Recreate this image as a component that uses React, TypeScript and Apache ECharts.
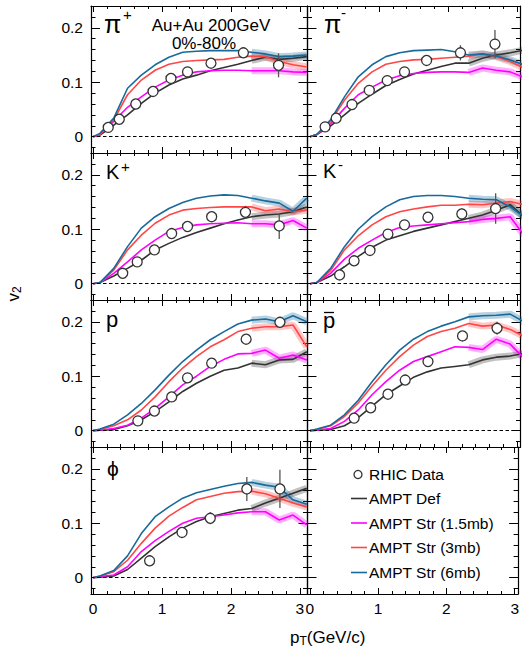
import React, { useEffect, useRef } from "react";
import * as echarts from "echarts";

// ---------- data ----------
const pT = [0, 0.1, 0.3, 0.5, 0.7, 0.9, 1.1, 1.3, 1.5, 1.7, 1.9, 2.1, 2.3, 2.5, 2.7, 2.9, 3.1];
const bandStartPt = 2.3;

const xMajorTicks = [0, 1, 2, 3];
const xMinorTicks = [0.2, 0.4, 0.6, 0.8, 1.2, 1.4, 1.6, 1.8, 2.2, 2.4, 2.6, 2.8];
const yMajorTicks = [0, 0.1, 0.2];
const yMinorTicks = [-0.02, 0.02, 0.04, 0.06, 0.08, 0.12, 0.14, 0.16, 0.18, 0.22];

const legendNames = ["RHIC Data", "AMPT Def", "AMPT Str (1.5mb)", "AMPT Str (3mb)", "AMPT Str (6mb)"];

// pi+
const piPlusDef = [0, 0.003, 0.021, 0.040, 0.061, 0.080, 0.095, 0.106, 0.113, 0.121, 0.127, 0.133, 0.140, 0.146, 0.142, 0.144, 0.147];
const piPlusStr15 = [0, 0.004, 0.028, 0.054, 0.073, 0.091, 0.104, 0.113, 0.119, 0.121, 0.122, 0.122, 0.121, 0.121, 0.121, 0.119, 0.118];
const piPlusStr3 = [0, 0.004, 0.031, 0.077, 0.104, 0.122, 0.133, 0.138, 0.140, 0.141, 0.142, 0.146, 0.148, 0.147, 0.138, 0.132, 0.128];
const piPlusStr6 = [0, 0.006, 0.034, 0.089, 0.113, 0.132, 0.146, 0.155, 0.157, 0.158, 0.158, 0.158, 0.155, 0.152, 0.147, 0.148, 0.150];
const piPlusDataPt = [0.22, 0.38, 0.62, 0.87, 1.13, 1.37, 1.71, 2.18, 2.69];
const piPlusDataV2 = [0.017, 0.032, 0.060, 0.083, 0.107, 0.119, 0.135, 0.154, 0.131];
const piPlusDataErr = [0, 0, 0, 0, 0, 0, 0, 0.008, 0.022];

// pi-
const piMinusDef = [0, 0.004, 0.020, 0.040, 0.061, 0.078, 0.094, 0.105, 0.115, 0.122, 0.129, 0.135, 0.135, 0.144, 0.150, 0.154, 0.159];
const piMinusStr15 = [0, 0.004, 0.024, 0.052, 0.077, 0.091, 0.104, 0.112, 0.116, 0.118, 0.119, 0.119, 0.118, 0.126, 0.122, 0.119, 0.109];
const piMinusStr3 = [0, 0.004, 0.028, 0.067, 0.098, 0.119, 0.133, 0.138, 0.141, 0.142, 0.144, 0.146, 0.148, 0.152, 0.147, 0.138, 0.126];
const piMinusStr6 = [0, 0.004, 0.031, 0.073, 0.110, 0.132, 0.147, 0.154, 0.158, 0.159, 0.160, 0.156, 0.150, 0.152, 0.148, 0.141, 0.132];
const piMinusDataPt = [0.22, 0.38, 0.61, 0.86, 1.12, 1.37, 1.69, 2.18, 2.68];
const piMinusDataV2 = [0.018, 0.034, 0.059, 0.085, 0.103, 0.119, 0.140, 0.154, 0.170];
const piMinusDataErr = [0, 0, 0, 0, 0, 0, 0, 0.014, 0.026];

// K+
const kPlusDef = [0, 0.002, 0.014, 0.028, 0.043, 0.062, 0.074, 0.085, 0.094, 0.102, 0.110, 0.117, 0.123, 0.126, 0.128, 0.132, 0.141];
const kPlusStr15 = [0, 0.002, 0.019, 0.040, 0.062, 0.080, 0.096, 0.103, 0.108, 0.110, 0.111, 0.112, 0.110, 0.110, 0.108, 0.116, 0.102];
const kPlusStr3 = [0, 0.002, 0.025, 0.062, 0.089, 0.111, 0.126, 0.135, 0.138, 0.140, 0.141, 0.141, 0.141, 0.134, 0.137, 0.132, 0.135];
const kPlusStr6 = [0, 0.002, 0.028, 0.068, 0.102, 0.123, 0.138, 0.149, 0.157, 0.161, 0.163, 0.162, 0.157, 0.152, 0.148, 0.133, 0.157];
const kPlusDataPt = [0.43, 0.64, 0.89, 1.14, 1.37, 1.72, 2.21, 2.70];
const kPlusDataV2 = [0.019, 0.040, 0.062, 0.092, 0.105, 0.123, 0.131, 0.106];
const kPlusDataErr = [0, 0, 0, 0, 0, 0, 0.012, 0.024];

// K-
const kMinusDef = [0, 0.002, 0.014, 0.031, 0.050, 0.067, 0.080, 0.088, 0.096, 0.102, 0.108, 0.114, 0.120, 0.126, 0.135, 0.145, 0.123];
const kMinusStr15 = [0, 0.002, 0.019, 0.045, 0.065, 0.080, 0.094, 0.103, 0.106, 0.108, 0.110, 0.112, 0.114, 0.118, 0.120, 0.123, 0.089];
const kMinusStr3 = [0, 0.002, 0.024, 0.062, 0.088, 0.108, 0.123, 0.132, 0.137, 0.141, 0.144, 0.144, 0.146, 0.145, 0.148, 0.151, 0.145];
const kMinusStr6 = [0, 0.002, 0.028, 0.068, 0.100, 0.123, 0.141, 0.154, 0.160, 0.162, 0.162, 0.160, 0.157, 0.155, 0.154, 0.141, 0.123];
const kMinusDataPt = [0.43, 0.64, 0.87, 1.13, 1.37, 1.71, 2.20, 2.69];
const kMinusDataV2 = [0.016, 0.042, 0.061, 0.091, 0.108, 0.122, 0.128, 0.138];
const kMinusDataErr = [0, 0, 0, 0, 0, 0, 0.010, 0.028];

// p
const pDef = [0, 0.001, 0.002, 0.009, 0.020, 0.035, 0.053, 0.072, 0.087, 0.100, 0.111, 0.115, 0.124, 0.121, 0.130, 0.131, 0.145];
const pStr15 = [0, 0.001, 0.004, 0.010, 0.023, 0.041, 0.062, 0.084, 0.100, 0.118, 0.131, 0.141, 0.142, 0.148, 0.133, 0.139, 0.130];
const pStr3 = [0, 0.002, 0.009, 0.020, 0.038, 0.062, 0.090, 0.115, 0.136, 0.154, 0.167, 0.182, 0.188, 0.191, 0.191, 0.194, 0.154];
const pStr6 = [0, 0.003, 0.012, 0.029, 0.050, 0.075, 0.102, 0.127, 0.148, 0.167, 0.182, 0.196, 0.203, 0.205, 0.200, 0.211, 0.200];
const pDataPt = [0.65, 0.89, 1.14, 1.37, 1.72, 2.22, 2.71];
const pDataV2 = [0.018, 0.036, 0.062, 0.097, 0.124, 0.168, 0.199];
const pDataErr = [0, 0, 0, 0, 0, 0, 0.006];

// pbar
const pbarDef = [0, 0.001, 0.002, 0.009, 0.024, 0.045, 0.066, 0.082, 0.098, 0.108, 0.115, 0.118, 0.121, 0.130, 0.135, 0.137, 0.142];
const pbarStr15 = [0, 0.001, 0.004, 0.017, 0.038, 0.066, 0.090, 0.111, 0.127, 0.136, 0.145, 0.154, 0.153, 0.149, 0.168, 0.159, 0.133];
const pbarStr3 = [0, 0.002, 0.009, 0.026, 0.051, 0.082, 0.111, 0.136, 0.157, 0.173, 0.182, 0.188, 0.197, 0.192, 0.194, 0.186, 0.173];
const pbarStr6 = [0, 0.003, 0.010, 0.029, 0.056, 0.090, 0.121, 0.148, 0.168, 0.182, 0.192, 0.200, 0.209, 0.211, 0.212, 0.214, 0.200];
const pbarDataPt = [0.64, 0.88, 1.13, 1.38, 1.71, 2.21, 2.71];
const pbarDataV2 = [0.023, 0.042, 0.067, 0.093, 0.127, 0.174, 0.188];
const pbarDataErr = [0, 0, 0, 0, 0, 0.006, 0.012];

// phi
const phiDef = [0, 0.001, 0.003, 0.015, 0.036, 0.057, 0.075, 0.091, 0.103, 0.112, 0.118, 0.124, 0.127, 0.137, 0.146, 0.155, 0.164];
const phiStr15 = [0, 0.002, 0.005, 0.020, 0.048, 0.068, 0.085, 0.100, 0.109, 0.112, 0.115, 0.119, 0.121, 0.121, 0.106, 0.115, 0.097];
const phiStr3 = [0, 0.003, 0.011, 0.032, 0.063, 0.091, 0.113, 0.129, 0.143, 0.149, 0.155, 0.158, 0.159, 0.154, 0.146, 0.137, 0.130];
const phiStr6 = [0, 0.003, 0.013, 0.040, 0.081, 0.112, 0.130, 0.146, 0.156, 0.162, 0.168, 0.173, 0.175, 0.170, 0.166, 0.143, 0.135];
const phiDataPt = [0.82, 1.29, 1.70, 2.23, 2.71];
const phiDataV2 = [0.031, 0.083, 0.109, 0.163, 0.163];
const phiDataErr = [0, 0, 0.011, 0.022, 0.035];

// ---------- styling ----------
const FONT = "'Liberation Sans', Arial, Helvetica, sans-serif";
const C_DEF = "#333333";
const C_15 = "#ff00ff";
const C_3 = "#ff4646";
const C_6 = "#176a9b";

type Panel = {
  def: number[]; s15: number[]; s3: number[]; s6: number[];
  dx: number[]; dy: number[]; de: number[];
};

const panels: Panel[] = [
  { def: piPlusDef, s15: piPlusStr15, s3: piPlusStr3, s6: piPlusStr6, dx: piPlusDataPt, dy: piPlusDataV2, de: piPlusDataErr },
  { def: piMinusDef, s15: piMinusStr15, s3: piMinusStr3, s6: piMinusStr6, dx: piMinusDataPt, dy: piMinusDataV2, de: piMinusDataErr },
  { def: kPlusDef, s15: kPlusStr15, s3: kPlusStr3, s6: kPlusStr6, dx: kPlusDataPt, dy: kPlusDataV2, de: kPlusDataErr },
  { def: kMinusDef, s15: kMinusStr15, s3: kMinusStr3, s6: kMinusStr6, dx: kMinusDataPt, dy: kMinusDataV2, de: kMinusDataErr },
  { def: pDef, s15: pStr15, s3: pStr3, s6: pStr6, dx: pDataPt, dy: pDataV2, de: pDataErr },
  { def: pbarDef, s15: pbarStr15, s3: pbarStr3, s6: pbarStr6, dx: pbarDataPt, dy: pbarDataV2, de: pbarDataErr },
  { def: phiDef, s15: phiStr15, s3: phiStr3, s6: phiStr6, dx: phiDataPt, dy: phiDataV2, de: phiDataErr },
];

function axis(kind: "x" | "y", g: number, pos: string, min: number, max: number,
  ticks: number[], len: number, showLine: boolean, showLabel: boolean) {
  return {
    type: "value",
    gridIndex: g,
    position: pos,
    min,
    max,
    axisLine: { show: showLine, onZero: false, lineStyle: { color: "#000", width: 1.2 } },
    axisTick: { show: true, inside: true, length: len, customValues: ticks, lineStyle: { color: "#000", width: 1 } },
    axisLabel: {
      show: showLabel,
      customValues: ticks,
      color: "#000",
      fontSize: 15.5,
      fontFamily: FONT,
      margin: kind === "x" ? 6 : 8,
    },
    splitLine: { show: false },
    minorTick: { show: false },
  };
}

function txt(text: string, x: number, y: number, size: number, align = "left", extra: any = {}) {
  return {
    type: "text",
    x,
    y,
    silent: true,
    style: { text, fontSize: size, fontFamily: FONT, fill: "#000", align, verticalAlign: "middle" },
    ...extra,
  };
}

export default function App() {
  const ref = useRef<HTMLDivElement>(null);
  useEffect(() => {
    if (!ref.current) return;
    const chart = echarts.init(ref.current, null, { renderer: "svg" });

    const cols = [
      { left: 91, width: 216.5, min: -0.03, max: 3.11 },
      { left: 307.5, width: 213, min: -0.035, max: 3.05 },
    ];
    const rowTop = [6, 153, 300, 447];
    const rowH = 147;
    const yMin = -0.03;
    const yMax = 0.24;

    const grids: any[] = [];
    const xAxes: any[] = [];
    const yAxes: any[] = [];
    const series: any[] = [];

    for (let g = 0; g < 8; g++) {
      const r = Math.floor(g / 2);
      const c = g % 2;
      const col = cols[c];
      grids.push({ left: col.left, top: rowTop[r], width: col.width, height: rowH });
      const bottomRow = r === 3;
      xAxes.push(axis("x", g, "bottom", col.min, col.max, xMajorTicks, 6, true, bottomRow));
      xAxes.push(axis("x", g, "bottom", col.min, col.max, xMinorTicks, 3, false, false));
      xAxes.push(axis("x", g, "top", col.min, col.max, xMajorTicks, 6, true, false));
      xAxes.push(axis("x", g, "top", col.min, col.max, xMinorTicks, 3, false, false));
      yAxes.push(axis("y", g, "left", yMin, yMax, yMajorTicks, 9, true, c === 0));
      yAxes.push(axis("y", g, "left", yMin, yMax, yMinorTicks, 4.5, false, false));
      yAxes.push(axis("y", g, "right", yMin, yMax, yMajorTicks, 9, true, false));
      yAxes.push(axis("y", g, "right", yMin, yMax, yMinorTicks, 4.5, false, false));
    }

    panels.forEach((p, g) => {
      const xi = g * 4;
      const yi = g * 4;
      const curves = [
        { name: legendNames[1], vals: p.def, color: C_DEF },
        { name: legendNames[2], vals: p.s15, color: C_15 },
        { name: legendNames[3], vals: p.s3, color: C_3 },
        { name: legendNames[4], vals: p.s6, color: C_6 },
      ];
      curves.forEach((cv, k) => {
        // shaded uncertainty band on the high-pT tail
        series.push({
          type: "line",
          name: cv.name,
          xAxisIndex: xi,
          yAxisIndex: yi,
          data: pT.map((x, i) => [x, cv.vals[i]]).filter((d) => d[0] >= bandStartPt - 1e-9),
          symbol: "none",
          lineStyle: { color: cv.color, width: 7, opacity: 0.3 },
          z: 1,
          silent: true,
        });
        series.push({
          type: "line",
          name: cv.name,
          xAxisIndex: xi,
          yAxisIndex: yi,
          data: pT.map((x, i) => [x, cv.vals[i]]),
          symbol: "none",
          lineStyle: { color: cv.color, width: 1.6 },
          z: 2 + k * 0.1,
          silent: true,
          markLine:
            k === 0
              ? {
                  silent: true,
                  symbol: ["none", "none"],
                  label: { show: false },
                  lineStyle: { type: [3.5, 2.5], color: "#000", width: 1.2 },
                  data: [{ yAxis: 0 }],
                }
              : undefined,
        });
      });
      // error bars
      series.push({
        type: "custom",
        name: legendNames[0],
        xAxisIndex: xi,
        yAxisIndex: yi,
        data: p.dx.map((x, i) => [x, p.dy[i], p.de[i]]),
        encode: { x: 0, y: 1 },
        z: 4,
        silent: true,
        renderItem: (params: any, api: any) => {
          const x = api.value(0);
          const y = api.value(1);
          const e = api.value(2);
          if (!e) return null;
          const a = api.coord([x, y - e]);
          const b = api.coord([x, y + e]);
          return {
            type: "line",
            shape: { x1: a[0], y1: a[1], x2: b[0], y2: b[1] },
            style: { stroke: "#555", lineWidth: 1.3 },
          };
        },
      });
      series.push({
        type: "scatter",
        name: legendNames[0],
        xAxisIndex: xi,
        yAxisIndex: yi,
        data: p.dx.map((x, i) => [x, p.dy[i]]),
        symbol: "circle",
        symbolSize: 10,
        itemStyle: { color: "#ffffff", borderColor: "#333", borderWidth: 1.3, opacity: 1 },
        z: 5,
        silent: true,
      });
    });

    // legend (drawn in the empty lower-right panel)
    const legY = [474.5, 498.5, 523, 547.5, 572.5];
    const legColors = [C_DEF, C_15, C_3, C_6];
    const legendEls: any[] = [
      { type: "circle", shape: { cx: 358, cy: legY[0], r: 4 }, style: { fill: "#fff", stroke: "#333", lineWidth: 1.3 } },
    ];
    legColors.forEach((col, i) => {
      legendEls.push({
        type: "line",
        shape: { x1: 351, y1: legY[i + 1], x2: 367, y2: legY[i + 1] },
        style: { stroke: col, lineWidth: 1.6 },
      });
    });
    legendNames.forEach((n, i) => legendEls.push(txt(n, 369, legY[i], 15.5)));

    const graphic: any[] = [
      ...legendEls,
      // panel labels
      txt("π", 104, 24, 25),
      txt("+", 123, 14, 15),
      txt("π", 324, 24, 25),
      txt("-", 341, 12, 15),
      txt("K", 106, 171.5, 20),
      txt("+", 121, 166, 15),
      txt("K", 323, 171, 20),
      txt("-", 338, 164, 15),
      txt("p", 106, 319, 22),
      txt("p", 323, 320, 22),
      { type: "line", shape: { x1: 324, y1: 312.5, x2: 334, y2: 312.5 }, style: { stroke: "#000", lineWidth: 1.3 } },
      txt("ϕ", 107, 468.5, 21),
      txt("Au+Au 200GeV", 211, 25, 17, "center"),
      txt("0%-80%", 204, 43, 17, "center"),
      // axis titles
      {
        type: "text",
        x: 13,
        y: 294,
        rotation: Math.PI / 2,
        silent: true,
        style: {
          text: "{m|v}{s|2}",
          align: "center",
          verticalAlign: "middle",
          fill: "#000",
          rich: {
            m: { fontSize: 17, fontFamily: FONT, fill: "#000" },
            s: { fontSize: 12, fontFamily: FONT, fill: "#000", verticalAlign: "bottom", padding: [8, 0, 0, 0] },
          },
        },
      },
      {
        type: "text",
        x: 290,
        y: 637,
        silent: true,
        style: {
          text: "{m|p}{s|T}{m|(GeV/c)}",
          align: "left",
          verticalAlign: "middle",
          fill: "#000",
          rich: {
            m: { fontSize: 17, fontFamily: FONT, fill: "#000" },
            s: { fontSize: 12, fontFamily: FONT, fill: "#000", verticalAlign: "bottom", padding: [8, 0, 0, 0] },
          },
        },
      },
    ];

    chart.setOption({
      animation: false,
      backgroundColor: "#ffffff",
      textStyle: { fontFamily: FONT },
      grid: grids,
      xAxis: xAxes,
      yAxis: yAxes,
      series,
      graphic,
    });
    return () => chart.dispose();
  }, []);

  return (
    <div
      ref={ref}
      style={{ position: "fixed", left: 0, top: 0, width: 522, height: 650, background: "#fff" }}
    />
  );
}
